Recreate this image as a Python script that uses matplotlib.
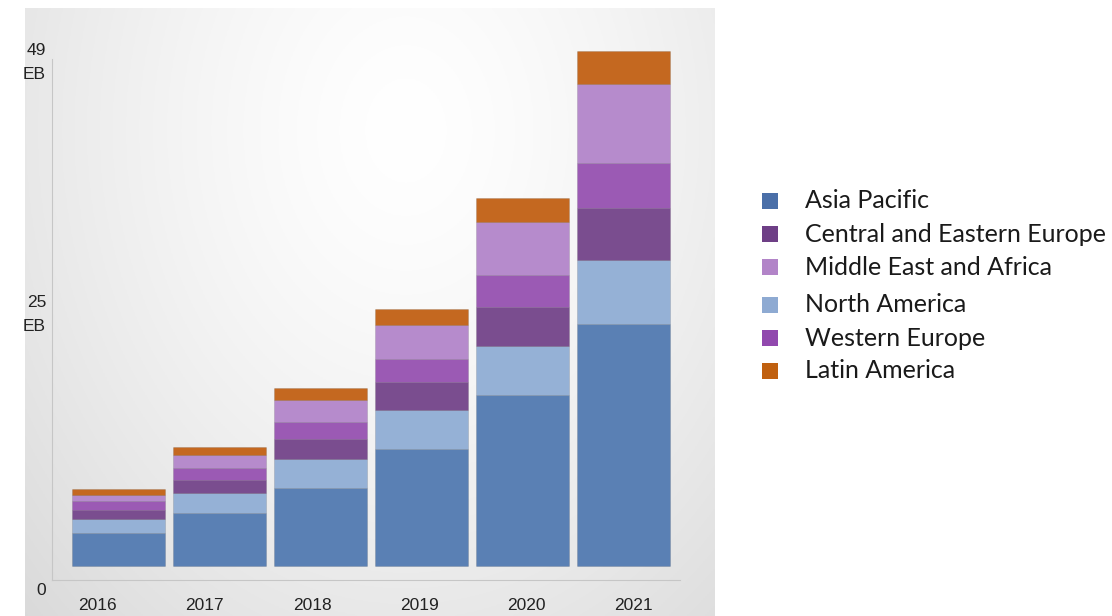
import numpy as np
import matplotlib
matplotlib.use("Agg")
import matplotlib.pyplot as plt
from matplotlib.patches import Rectangle
import matplotlib.transforms as mtransforms

years = ['2016', '2017', '2018', '2019', '2020', '2021']

# stacking order from the bottom up
asia_pacific = [3.1, 5.0, 7.4, 11.1, 16.3, 23.0]
north_america = [1.4, 1.9, 2.8, 3.7, 4.6, 6.1]
central_eastern_europe = [0.8, 1.3, 1.9, 2.7, 3.7, 5.0]
western_europe = [0.9, 1.1, 1.6, 2.2, 3.1, 4.2]
middle_east_africa = [0.55, 1.25, 2.1, 3.2, 5.0, 7.6]
latin_america = [0.55, 0.75, 1.15, 1.6, 2.3, 3.1]

ytick_vals = [0, 25, 49]
ytick_labels = ['0', '25\nEB', '49\nEB']

series = [
    ('Asia Pacific', asia_pacific, '#5a80b4'),
    ('North America', north_america, '#95b1d6'),
    ('Central and Eastern Europe', central_eastern_europe, '#7a4d8f'),
    ('Western Europe', western_europe, '#9b5ab4'),
    ('Middle East and Africa', middle_east_africa, '#b68bcc'),
    ('Latin America', latin_america, '#c46820'),
]
legend_order = ['Asia Pacific', 'Central and Eastern Europe', 'Middle East and Africa',
                'North America', 'Western Europe', 'Latin America']
legend_colors = {'Asia Pacific': '#4a6fa8', 'Central and Eastern Europe': '#6e3f86',
                 'Middle East and Africa': '#b284c8', 'North America': '#8eaad2',
                 'Western Europe': '#9148ae', 'Latin America': '#c0600f'}

plt.rcParams['font.family'] = ['Liberation Sans', 'DejaVu Sans']

W, H = 1112, 616
fig = plt.figure(figsize=(W / 100, H / 100), dpi=100, facecolor='white')

# grey panel with soft radial highlight behind the chart
bg = fig.add_axes([25 / W, 0, 690 / W, 608 / H], zorder=0)
yy, xx = np.mgrid[0:300, 0:345]
d = np.sqrt(((xx - 190) / 260.0) ** 2 + ((yy - 60) / 330.0) ** 2)
shade = 1.0 - 0.14 * np.clip(d, 0, 1.3) ** 1.4
bg.imshow(np.dstack([shade, shade, shade]), aspect='auto', extent=[0, 1, 0, 1])
bg.axis('off')

ax = fig.add_axes([52 / W, 36 / H, 628 / W, 539.5 / H], zorder=1)
ax.patch.set_alpha(0)

x = np.arange(len(years))
bottom = np.zeros(len(years))
for name, vals, col in series:
    ax.bar(x, vals, width=0.92, bottom=bottom, color=col,
           edgecolor=(0, 0, 0, 0.12), linewidth=0.6, zorder=3)
    bottom += np.array(vals)

ax.set_xlim(-0.658, 5.554)
ax.set_ylim(-1.33, 50)

for s in ['top', 'right']:
    ax.spines[s].set_visible(False)
ax.spines['left'].set_color('#c6c6c6')
ax.spines['bottom'].set_color('#c6c6c6')
ax.spines['left'].set_bounds(-1.33, 48.2)

# the year labels sit on a slightly wider pitch than the bars
ax.set_xticks(-0.208 + 1.061 * x)
ax.set_xticklabels(years, fontsize=12.5, color='#222222')
ax.tick_params(axis='x', length=0, pad=13)
ax.set_yticks([])

trans = mtransforms.blended_transform_factory(ax.transAxes, ax.transData)
for v, lab in zip(ytick_vals, ytick_labels):
    off = -2.3 if v == 0 else -1.1
    ax.text(-0.0095, v + off, lab, transform=trans, ha='right', va='center',
            fontsize=12.5, color='#222222', linespacing=1.75, multialignment='right')

# legend drawn by hand to match the row layout
row_y = [201, 234, 267, 305, 338, 371]
for name, ry in zip(legend_order, row_y):
    fig.patches.append(Rectangle((762 / W, 1 - (ry + 8) / H), 16 / W, 16 / H,
                                 transform=fig.transFigure, facecolor=legend_colors[name],
                                 edgecolor='none'))
    fig.text(805 / W, 1 - ry / H, name, ha='left', va='center', family='Lato',
             fontsize=18, color='#1a1a1a')

fig.savefig('out.png', dpi=100, facecolor='white')
